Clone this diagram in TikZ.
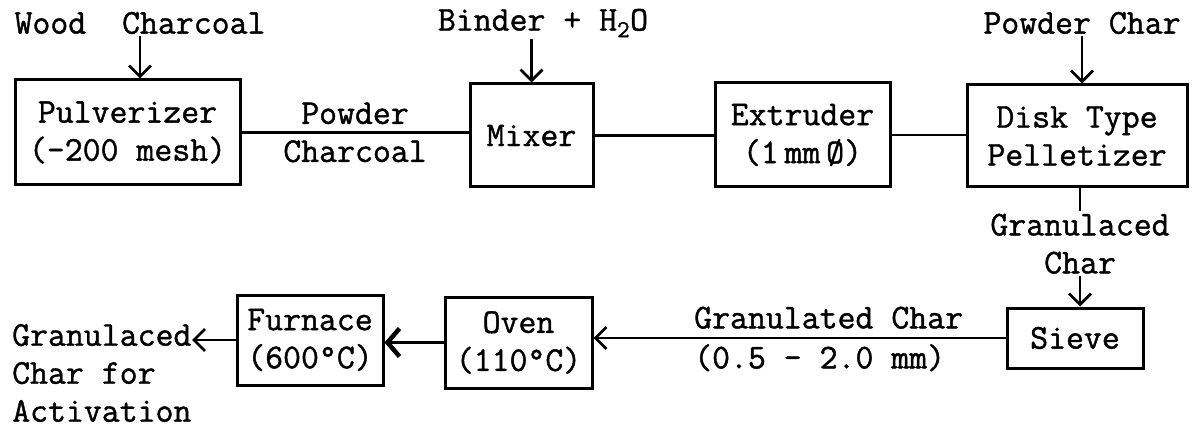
\documentclass[tikz,border=0pt]{standalone}
\usepackage{fontspec}
\newfontfamily\typer[FakeBold=1.2]{Latin Modern Mono}
\usetikzlibrary{positioning, arrows.meta, calc}
\tikzset{
  unit/.style={rectangle, draw=black, line width=3pt, align=center, inner sep=0pt},
  lbl/.style={align=center, inner sep=2pt},
  link/.style={line width=2.8pt},
  flow/.style={link, -{Straight Barb[length=11pt, width=22pt, line width=2.8pt]}},
  push/.style={link, -{Straight Barb[length=12pt, width=28pt, line width=4.5pt]}},
}

\begin{document}
\begin{tikzpicture}[x=1pt, y=-1pt, node distance=0pt,
    font=\typer\fontsize{34.8}{38}\selectfont]
  \useasboundingbox (0,0) rectangle (1198,430);
  % top row
  \node[unit, minimum width=225pt, minimum height=105pt] (pulv) at (127.5,132.5) {Pulverizer\\(-200 mesh)};
  \node[unit, minimum width=123pt, minimum height=103pt] (mixer) at (531.5,135.5) {Mixer};
  \node[unit, minimum width=175pt, minimum height=104pt] (extr) at (802.5,135) {Extruder\\(1\,mm\,Ø)};
  \node[unit, minimum width=220pt, minimum height=102pt] (pell) at (1077,136) {Disk Type\\Pelletizer};
  % bottom row
  \node[unit, minimum width=136pt, minimum height=60pt] (sieve) at (1075,338) {Sieve};
  \node[unit, minimum width=147pt, minimum height=91pt] (oven) at (518.5,342.5) {Oven\\(110°C)};
  \node[unit, minimum width=146pt, minimum height=90pt] (furn) at (310,340) {Furnace\\(600°C)};
  % feeds
  \node[lbl] (wood) at (140,23) {Wood\ \ Charcoal};
  \node[lbl] (binder) at (543,23) {Binder + H\textsubscript{2}O};
  \node[lbl] (pchar) at (1082,23) {Powder Char};
  \draw[flow] (wood.south) -- (wood.south |- pulv.north);
  \draw[flow] (mixer.north |- binder.south) -- (mixer.north);
  \draw[flow] (pchar.south) -- (pchar.south |- pell.north);
  % links
  \draw[link] (pulv.east) -- (pulv.east -| mixer.west)
    node[lbl, midway] (pcoal) {Powder\\Charcoal};
  \draw[link] (mixer.east) -- (mixer.east -| extr.west);
  \draw[link] (extr.east) -- (extr.east -| pell.west);
  \draw[link] ($(pell.south)+(3,0)$) -- ++(0,23) coordinate (stub);
  \node[lbl, below=of stub] (gran) {Granulaced\\Char};
  \draw[flow] (gran.south) -- (gran.south |- sieve.north);
  \draw[flow] (sieve.west) -- (sieve.west -| oven.east);
  \node[anchor=west, align=left, inner sep=0pt] (gsize) at (694,339) {Granulated Char\\[2pt](0.5 - 2.0 mm)};
  \draw[push] (oven.west) -- (oven.west -| furn.east);
  \node[anchor=west, align=left, inner sep=0pt] (prod) at (12,373) {Granulaced\\Char for\\Activation};
  \coordinate (tip) at (192,337);
  \draw[flow] (furn.west) -- (furn.west -| tip);
\end{tikzpicture}
\end{document}
